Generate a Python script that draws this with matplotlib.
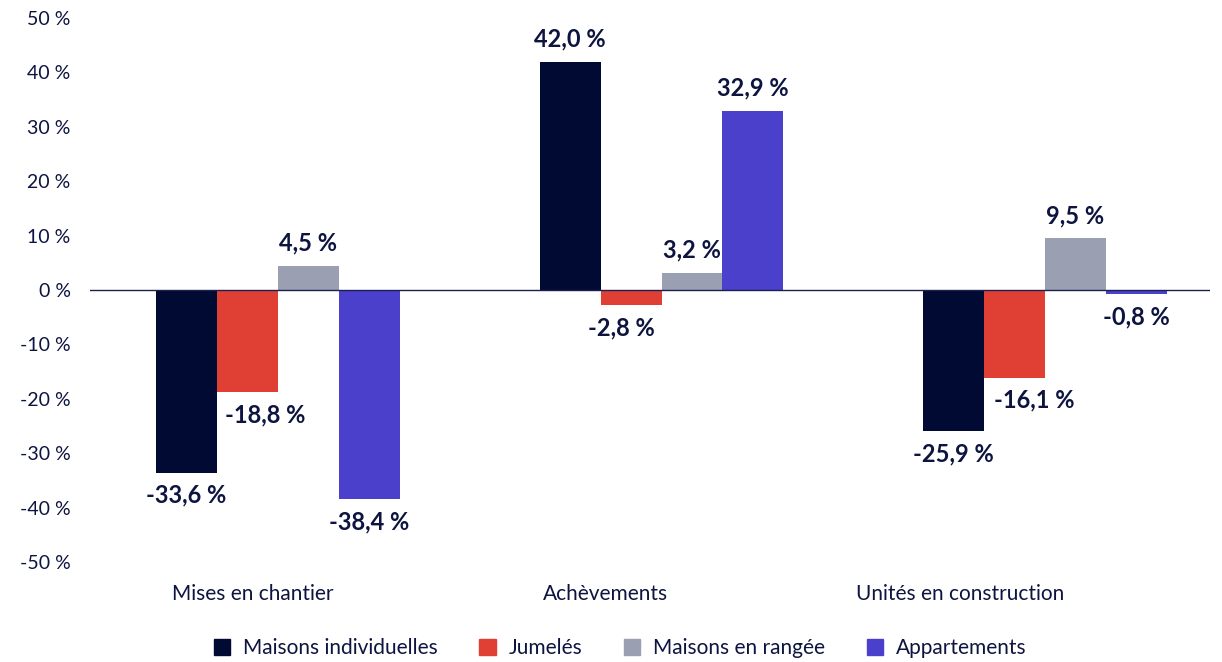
import numpy as np
import matplotlib.pyplot as plt
from matplotlib.patches import Patch

plt.rcParams['font.family'] = ['Lato', 'DejaVu Sans']

# donnees
categories = ['Mises en chantier', 'Achèvements', 'Unités en construction']
series = ['Maisons individuelles', 'Jumelés', 'Maisons en rangée', 'Appartements']
valeurs = {
    'Maisons individuelles': [-33.6, 42.0, -25.9],
    'Jumelés': [-18.8, -2.8, -16.1],
    'Maisons en rangée': [4.5, 3.2, 9.5],
    'Appartements': [-38.4, 32.9, -0.8],
}
couleurs = ['#000a33', '#e03f33', '#9a9fb2', '#4a40cc']
texte = '#0d1440'

# petits decalages horizontaux des etiquettes (en points)
decalage_x = {
    'Jumelés': [13, -7, 14],
}
# les libelles de categories sont decales vers la gauche
decalage_cat = [0.065, 0.145, 0.222]

fig = plt.figure(figsize=(12.22, 6.62), dpi=100)
ax = fig.add_axes([90 / 1222, 1 - 562 / 662, 1120 / 1222, 544 / 662])

x = np.arange(len(categories))
w = 0.159
for i, s in enumerate(series):
    pos = x + (i - 1.5) * w
    ax.bar(pos, valeurs[s], width=w, color=couleurs[i], zorder=2)
    for j, v in enumerate(valeurs[s]):
        dx = decalage_x.get(s, [0, 0, 0])[j]
        lab = f'{v:.1f} %'.replace('.', ',')
        if v >= 0:
            ax.annotate(lab, (pos[j], v), xytext=(dx, 8), textcoords='offset points',
                        ha='center', va='bottom', fontsize=17, fontweight='bold', color=texte)
        else:
            ax.annotate(lab, (pos[j], v), xytext=(dx, -8), textcoords='offset points',
                        ha='center', va='top', fontsize=17, fontweight='bold', color=texte)

ax.axhline(0, color='#1a2050', lw=1, zorder=3)
ax.set_ylim(-50, 50)
ax.set_xlim(-0.49, 2.43)
ax.set_yticks(np.arange(-50, 51, 10))
ax.set_yticklabels([f'{t} %' for t in range(-50, 51, 10)])
ax.set_xticks(x - np.array(decalage_cat))
ax.set_xticklabels(categories)
ax.tick_params(axis='y', length=0, pad=14, labelsize=14, labelcolor=texte)
ax.tick_params(axis='x', length=0, pad=16, labelsize=15, labelcolor=texte)
for sp in ax.spines.values():
    sp.set_visible(False)

handles = [Patch(color=c, label=s) for c, s in zip(couleurs, series)]
fig.legend(handles=handles, loc='center', bbox_to_anchor=(620 / 1222, 1 - 648 / 662), ncol=4,
           frameon=False, fontsize=15, handlelength=0.8, handleheight=0.8,
           handletextpad=0.6, columnspacing=2.0, labelcolor=texte)

fig.savefig('out.png', dpi=100)
